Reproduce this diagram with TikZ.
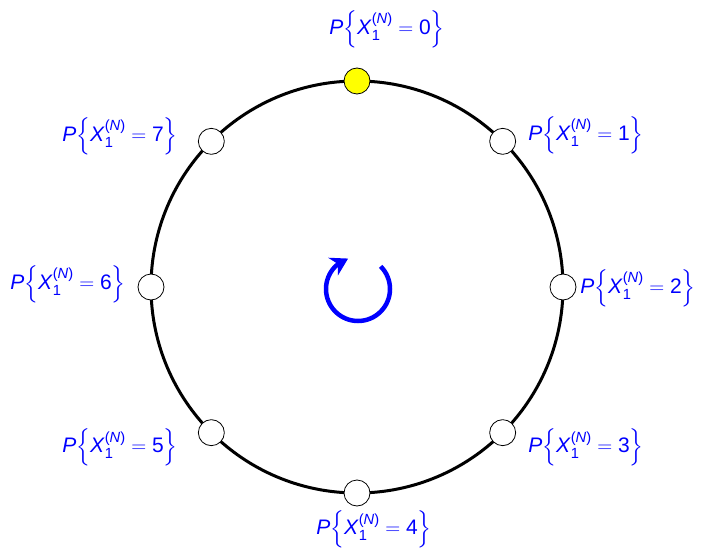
\documentclass[tikz,border=0pt]{standalone}
\usepackage{amsmath}
\usepackage{fontspec}
\setmainfont{Liberation Sans}
\usepackage{tikz}
\usetikzlibrary{arrows.meta,bending,calc}
\definecolor{rgblue}{HTML}{0000FF}
\definecolor{rgyellow}{HTML}{FFFF00}
\newcommand{\probx}[1]{$\text{\textit{P}}\Bigl\{\text{\textit{X}}_{\text{1}}^{\text{(\textit{N})}}=\text{#1}\Bigr\}$}

\begin{document}
\begin{tikzpicture}[x=1pt,y=1pt,
  state/.style={circle,draw=black,line width=0.8pt,minimum size=26pt,inner sep=0pt},
  prob/.style={text=rgblue,font=\fontsize{21}{25}\selectfont,inner sep=0pt}]
\useasboundingbox (0,0) rectangle (701,550);
\coordinate (c) at (357,263);
\draw[line width=3pt] (c) circle[radius=206];
\foreach \i/\f in {0/rgyellow,1/white,2/white,3/white,4/white,5/white,6/white,7/white}
  \node[state,fill=\f] (n\i) at ($(c)+({90-45*\i}:206)$) {};
\foreach \i/\x/\y in {0/387/521,1/586/415,2/638/262,3/586/103,4/374/21,5/120/103,6/68/266,7/120/414}
  \node[prob] (l\i) at (\x,\y) {\probx{\i}};
\draw[rgblue,line width=4.5pt,-{Stealth[length=17pt,width=20pt,flex]}]
  ($(c)+(1,-2)+(45:32)$) arc[start angle=45,end angle=-252,radius=32];
\end{tikzpicture}
\end{document}
